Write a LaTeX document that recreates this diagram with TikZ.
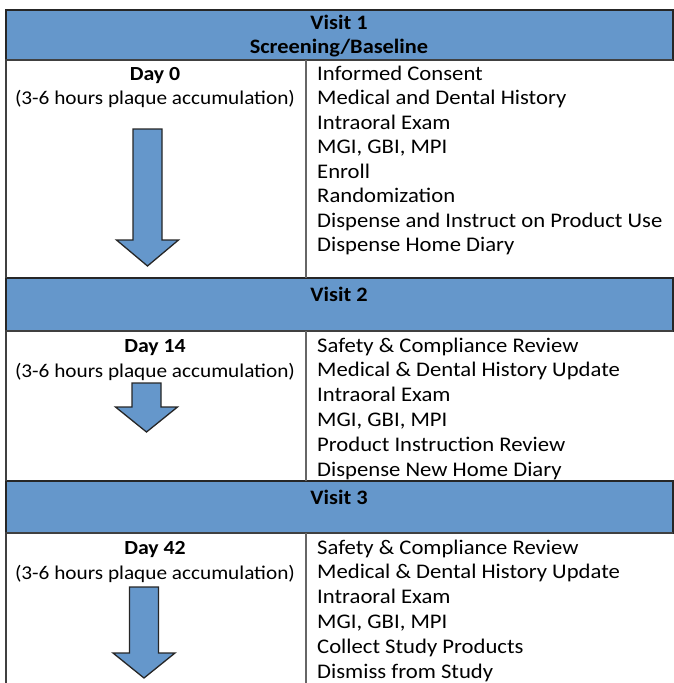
\documentclass[tikz,border=0pt]{standalone}
\usepackage{fontspec}
\setmainfont{Carlito}[FakeStretch=1.09]
\definecolor{visitblue}{RGB}{101,151,203}
\tikzset{
	visitbar/.style = {draw=black!85, line width=1.8pt, fill=visitblue},
	rowbox/.style = {draw=black!75, line width=1.4pt},
	colline/.style = {draw=black!60, line width=1.1pt},
	celltext/.style = {inner sep=0pt, text height=18pt, text depth=4pt},
	visittext/.style = {celltext, font=\bfseries\fontsize{20.5}{22}\selectfont},
	daytext/.style = {celltext, font=\bfseries\fontsize{20}{22}\selectfont},
	hourtext/.style = {celltext, font=\fontsize{19.5}{22}\selectfont},
	steptext/.style = {celltext, anchor=west,
		font=\fontsize{20.8}{22}\selectfont},
	blockarrow/.style = {draw=black!85, line width=1.3pt, fill=visitblue,
		line join=miter}
}
% block arrow: centre x, top of shaft, top of head, tip
\newcommand{\dayarrow}[4]{
	\draw[blockarrow] ({#1-14.5},#2) -- ({#1+14.5},#2) -- ({#1+14.5},#3)
		-- ({#1+31},#3) -- (#1,#4) -- ({#1-31},#3) -- ({#1-14.5},#3) -- cycle;
}

\begin{document}
\begin{tikzpicture}[x=1pt,y=-1pt]
	\useasboundingbox (0,0) rectangle (674,683);
	% visit bars
	\draw[visitbar] (6,10) rectangle (673,60);
	\draw[visitbar] (6,278) rectangle (673,331);
	\draw[visitbar] (6,481) rectangle (673,533);
	% day rows
	\draw[rowbox] (673,60) -- (6,60) -- (6,278);
	\draw[rowbox] (673,331) -- (6,331) -- (6,481);
	\draw[rowbox] (673,533) -- (6,533) -- (6,690);
	\draw[colline] (306,60) -- (306,278);
	\draw[colline] (306,331) -- (306,481);
	\draw[colline] (306,533) -- (306,690);
	% headings
	\node[visittext] (visit1) at (339,22) {Visit 1};
	\node[visittext] (screening) at (339,46) {Screening/Baseline};
	\node[visittext] (visit2) at (339,294) {Visit 2};
	\node[visittext] (visit3) at (339,497) {Visit 3};
	% left column
	\node[daytext] (day0) at (155,73) {Day 0};
	\node[hourtext] (hours0) at (155,97) {(3-6 hours plaque accumulation)};
	\node[daytext] (day14) at (155,345) {Day 14};
	\node[hourtext] (hours14) at (155,370) {(3-6 hours plaque accumulation)};
	\node[daytext] (day42) at (155,547) {Day 42};
	\node[hourtext] (hours42) at (155,572) {(3-6 hours plaque accumulation)};
	\dayarrow{147.5}{129}{240}{266}
	\dayarrow{146.5}{383}{407}{432}
	\dayarrow{144}{587}{653}{678}
	% right column
	\foreach \t [count=\i] in {Informed Consent, Medical and Dental History,
		Intraoral Exam, {MGI, GBI, MPI}, Enroll, Randomization,
		Dispense and Instruct on Product Use, Dispense Home Diary}
		\node[steptext] (stepa\i) at (317,{73+24.5*(\i-1)}) {\t};
	\foreach \t [count=\i] in {Safety \& Compliance Review,
		Medical \& Dental History Update, Intraoral Exam, {MGI, GBI, MPI},
		Product Instruction Review, Dispense New Home Diary}
		\node[steptext] (stepb\i) at (317,{345+24.8*(\i-1)}) {\t};
	\foreach \t [count=\i] in {Safety \& Compliance Review,
		Medical \& Dental History Update, Intraoral Exam, {MGI, GBI, MPI},
		Collect Study Products, Dismiss from Study}
		\node[steptext] (stepc\i) at (317,{547+24.8*(\i-1)}) {\t};
\end{tikzpicture}
\end{document}
